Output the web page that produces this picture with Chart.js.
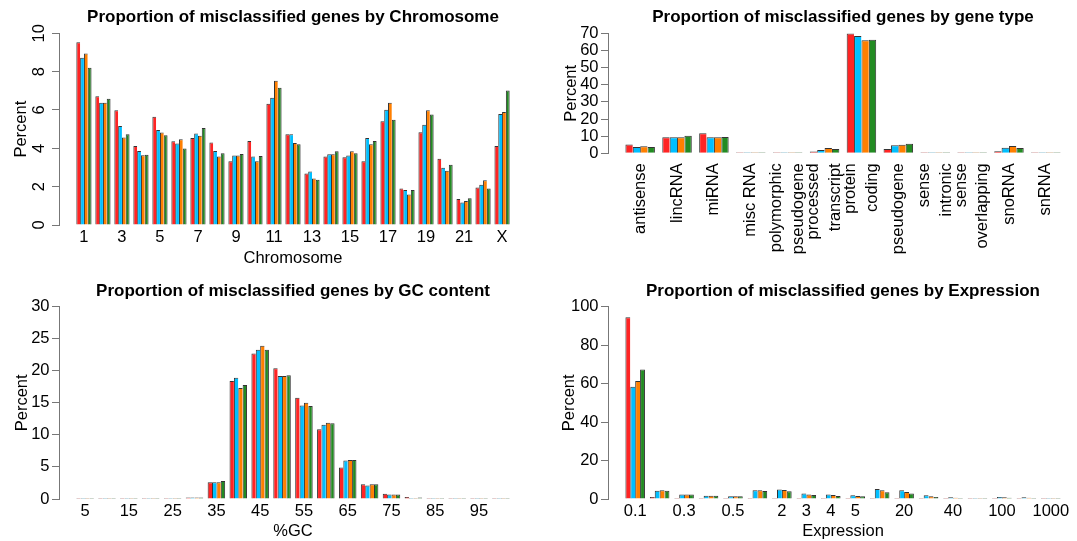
<!DOCTYPE html>
<html>
<head>
<meta charset="utf-8">
<script src="https://cdn.jsdelivr.net/npm/chart.js@4.4.0/dist/chart.umd.min.js"></script>
<style>
html, body { margin: 0; padding: 0; background: #fff; overflow: hidden; width: 1077px; height: 541px; }
canvas { position: absolute; }
</style>
</head>
<body>
<canvas id="chrom" width="538" height="270" style="left:0;top:0;width:538px;height:270px"></canvas>
<canvas id="gtype" width="545" height="270" style="left:538px;top:0;width:545px;height:270px"></canvas>
<canvas id="gc" width="538" height="271" style="left:0;top:270px;width:538px;height:271px"></canvas>
<canvas id="expr" width="545" height="271" style="left:538px;top:270px;width:545px;height:271px"></canvas>
<script>
// four series per group, same order in every panel
const seriesNames = ['Set 1', 'Set 2', 'Set 3', 'Set 4'];
const barColors = ['#ff2424', '#00bfff', '#ff7f00', '#228b22'];

// chromosome
const chromLabels = ['1','2','3','4','5','6','7','8','9','10','11','12','13','14','15','16','17','18','19','20','21','22','X'];
const chromRed    = [9.53, 6.72, 5.98, 4.12, 5.65, 4.37, 4.54, 4.30, 3.33, 4.38, 6.33, 4.73, 2.69, 3.57, 3.54, 3.33, 5.41, 1.91, 4.84, 3.45, 1.35, 1.96, 4.12];
const chromBlue   = [8.72, 6.38, 5.16, 3.86, 4.96, 4.25, 4.77, 3.86, 3.62, 3.57, 6.64, 4.73, 2.79, 3.69, 3.62, 4.54, 6.01, 1.82, 5.23, 2.98, 1.18, 2.10, 5.79];
const chromOrange = [8.94, 6.38, 4.56, 3.64, 4.82, 4.47, 4.66, 3.57, 3.62, 3.33, 7.52, 4.28, 2.43, 3.69, 3.85, 4.21, 6.38, 1.59, 5.98, 2.83, 1.25, 2.34, 5.89];
const chromGreen  = [8.20, 6.59, 4.73, 3.67, 4.68, 3.99, 5.06, 3.74, 3.71, 3.60, 7.16, 4.21, 2.36, 3.85, 3.74, 4.38, 5.49, 1.82, 5.77, 3.14, 1.40, 1.91, 7.02];
const chromShown  = ['1','3','5','7','9','11','13','15','17','19','21','X'];

// gene type
const typeLabels = ['antisense', 'lincRNA', 'miRNA', 'misc RNA', ['polymorphic', 'pseudogene'], ['processed', 'transcript'],
  ['protein', 'coding'], 'pseudogene', ['sense', 'intronic'], ['sense', 'overlapping'], 'snoRNA', 'snRNA'];
const typeRed    = [5.2, 9.3, 11.7, 0.1, 0.2, 1.0, 69.9, 2.5, 0.5, 0.1, 1.2, 0.1];
const typeBlue   = [3.7, 9.3, 9.3, 0.1, 0.2, 1.9, 68.4, 4.7, 0.5, 0.1, 3.3, 0.1];
const typeOrange = [4.1, 9.3, 9.3, 0.1, 0.2, 3.1, 65.9, 5.0, 0.5, 0.1, 4.3, 0.1];
const typeGreen  = [3.7, 10.3, 9.5, 0.1, 0.2, 2.5, 66.3, 5.6, 0.5, 0.1, 3.1, 0.1];

// GC content
const gcLabels = ['5','10','15','20','25','30','35','40','45','50','55','60','65','70','75','80','85','90','95','100'];
const gcRed    = [0.05, 0.05, 0.05, 0.05, 0.05, 0.25, 2.6, 18.4, 22.7, 20.4, 15.8, 10.9, 4.9, 2.3, 0.8, 0.3, 0.1, 0.1, 0.05, 0.05];
const gcBlue   = [0.05, 0.05, 0.05, 0.05, 0.05, 0.25, 2.6, 18.9, 23.3, 19.2, 14.6, 11.6, 6.0, 2.1, 0.7, 0.15, 0.1, 0.1, 0.05, 0.05];
const gcOrange = [0.05, 0.05, 0.05, 0.05, 0.05, 0.25, 2.6, 17.3, 23.9, 19.2, 15.0, 11.9, 6.1, 2.3, 0.7, 0.15, 0.1, 0.1, 0.05, 0.05];
const gcGreen  = [0.05, 0.05, 0.05, 0.05, 0.05, 0.25, 2.8, 17.8, 23.3, 19.3, 14.5, 11.8, 6.1, 2.3, 0.7, 0.25, 0.1, 0.1, 0.05, 0.05];
const gcShown  = ['5','15','25','35','45','55','65','75','85','95'];

// expression
const exprLabels = ['0.1','0.2','0.3','0.4','0.5','1','2','3','4','5','10','20','30','40','50','100','500','1000'];
const exprRed    = [94.5, 1.0, 0.5, 0.2, 0.2, 0.5, 0.5, 0.2, 0.2, 0.2, 0.2, 0.2, 0.1, 0.1, 0.1, 0.1, 0.1, 0.1];
const exprBlue   = [58.4, 4.3, 2.3, 1.7, 1.4, 4.5, 4.9, 2.8, 2.3, 1.9, 5.2, 4.5, 1.9, 0.9, 0.5, 1.1, 0.9, 0.1];
const exprOrange = [61.4, 4.5, 2.4, 1.7, 1.4, 4.5, 4.7, 2.4, 2.1, 1.6, 4.5, 3.6, 1.4, 0.7, 0.5, 0.9, 0.7, 0.1];
const exprGreen  = [67.4, 4.3, 2.3, 1.7, 1.4, 4.2, 4.0, 2.1, 1.6, 1.4, 3.5, 2.8, 1.0, 0.5, 0.4, 0.7, 0.5, 0.1];
const exprShown  = ['0.1','0.3','0.5','2','3','4','5','20','40','100','1000'];

const FONT = '"Liberation Sans", Arial, Helvetica, sans-serif';
const AXIS = '#777';

// R puts two-line labels around the tick, chart.js starts the first line on it
const centerLines = {
  id: 'centerLines',
  beforeDraw(chart) {
    const s = chart.scales.x;
    const lh = s.options.ticks.font.size * s.options.ticks.font.lineHeight;
    s.getLabelItems().forEach(it => {
      if (Array.isArray(it.label) && it.label.length > 1 && !it._moved) {
        it.options.translation[0] -= (it.label.length - 1) * lh / 2;
        it._moved = true;
      }
    });
  }
};

function barPanel(id, p) {
  const n = p.labels.length;
  const ext = 0.04 * (n - 0.2); // barplot widens xlim by 4%
  const xMin = -0.4 - ext, xMax = n - 0.6 + ext;
  return new Chart(document.getElementById(id), {
    type: 'bar',
    data: {
      datasets: p.series.map((vals, k) => ({
        label: seriesNames[k],
        data: vals.map((v, i) => ({ x: i, y: v })),
        backgroundColor: barColors[k],
        borderColor: '#333',
        borderWidth: { left: 1, top: 1, right: k === 3 ? 1 : 0, bottom: 0 },
        inflateAmount: 0,
        minBarLength: 1,
        categoryPercentage: 0.8,
        barPercentage: 1
      }))
    },
    plugins: p.plugins || [],
    options: {
      responsive: false,
      animation: false,
      events: [],
      layout: { padding: { left: 0, right: p.padR, top: 0, bottom: p.padB } },
      plugins: {
        legend: { display: false },
        tooltip: { enabled: false },
        title: {
          display: true, text: p.title, fullSize: false, color: '#000',
          font: { family: FONT, size: 17, weight: 'bold' },
          padding: { top: p.titleTop, bottom: p.titleBottom }
        }
      },
      scales: {
        x: {
          type: 'linear',
          offset: false,
          bounds: 'data',
          min: xMin,
          max: xMax,
          afterBuildTicks: s => {
            s.ticks = p.labels.map((_, i) => ({ value: i }));
            s.min = xMin;
            s.max = xMax;
          },
          afterFit: s => { s.height = p.xH; },
          grid: { display: false, drawTicks: false, offset: false },
          border: { display: false },
          ticks: {
            autoSkip: false,
            minRotation: p.xRot, maxRotation: p.xRot,
            padding: p.xPad,
            color: '#000',
            font: { family: FONT, size: 16.5, lineHeight: p.xLine || 1.2 },
            callback: v => {
              const lab = p.labels[v];
              if (lab === undefined) return '';
              if (!p.shown) return lab;
              return p.shown.includes(lab) ? lab : '';
            }
          },
          title: {
            display: !!p.xTitle, text: p.xTitle, color: '#000',
            font: { family: FONT, size: 16.5 }, padding: { top: 0, bottom: 0 }
          }
        },
        y: {
          min: 0, max: p.yMax,
          afterFit: s => { s.width = p.yW; },
          grid: { display: true, drawOnChartArea: false, drawTicks: true, tickLength: 7, color: AXIS, lineWidth: 1 },
          border: { display: true, color: AXIS, width: 1 },
          ticks: {
            stepSize: p.yStep, autoSkip: false,
            minRotation: p.yRot || 0, maxRotation: p.yRot || 0,
            crossAlign: p.yRot ? 'center' : 'near',
            padding: p.yPad, color: '#000',
            font: { family: FONT, size: 16.5 }
          },
          title: {
            display: true, text: 'Percent', color: '#000',
            font: { family: FONT, size: 16.5 }, padding: { top: p.yTitlePad, bottom: 0 }
          }
        }
      }
    }
  });
}

barPanel('chrom', {
  title: 'Proportion of misclassified genes by Chromosome',
  labels: chromLabels, shown: chromShown,
  series: [chromRed, chromBlue, chromOrange, chromGreen],
  yMax: 10, yStep: 2, yRot: 90, yPad: 3.8, yW: 59, yTitlePad: 11.4,
  padR: 11, padB: 2.1, titleTop: 7.6, titleBottom: 5.3,
  xH: 42.9, xPad: 3, xRot: 0, xTitle: 'Chromosome'
});

barPanel('gtype', {
  title: 'Proportion of misclassified genes by gene type',
  labels: typeLabels,
  series: [typeRed, typeBlue, typeOrange, typeGreen],
  yMax: 70, yStep: 10, yPad: 2.5, yW: 70, yTitlePad: 23.1,
  padR: 5, padB: 0, titleTop: 7.6, titleBottom: 5.3,
  xH: 116.7, xPad: 10, xRot: 90, xLine: 1.31, xTitle: '',
  plugins: [centerLines]
});

barPanel('gc', {
  title: 'Proportion of misclassified genes by GC content',
  labels: gcLabels, shown: gcShown,
  series: [gcRed, gcBlue, gcOrange, gcGreen],
  yMax: 30, yStep: 5, yPad: 2.5, yW: 59, yTitlePad: 12.1,
  padR: 11, padB: 0, titleTop: 11.3, titleBottom: 5,
  xH: 42, xPad: 3, xRot: 0, xTitle: '%GC'
});

barPanel('expr', {
  title: 'Proportion of misclassified genes by Expression',
  labels: exprLabels, shown: exprShown,
  series: [exprRed, exprBlue, exprOrange, exprGreen],
  yMax: 100, yStep: 20, yPad: 2.5, yW: 70, yTitlePad: 21.1,
  padR: 5, padB: 0, titleTop: 11.3, titleBottom: 5,
  xH: 42, xPad: 3, xRot: 0, xTitle: 'Expression'
});
</script>
</body>
</html>
